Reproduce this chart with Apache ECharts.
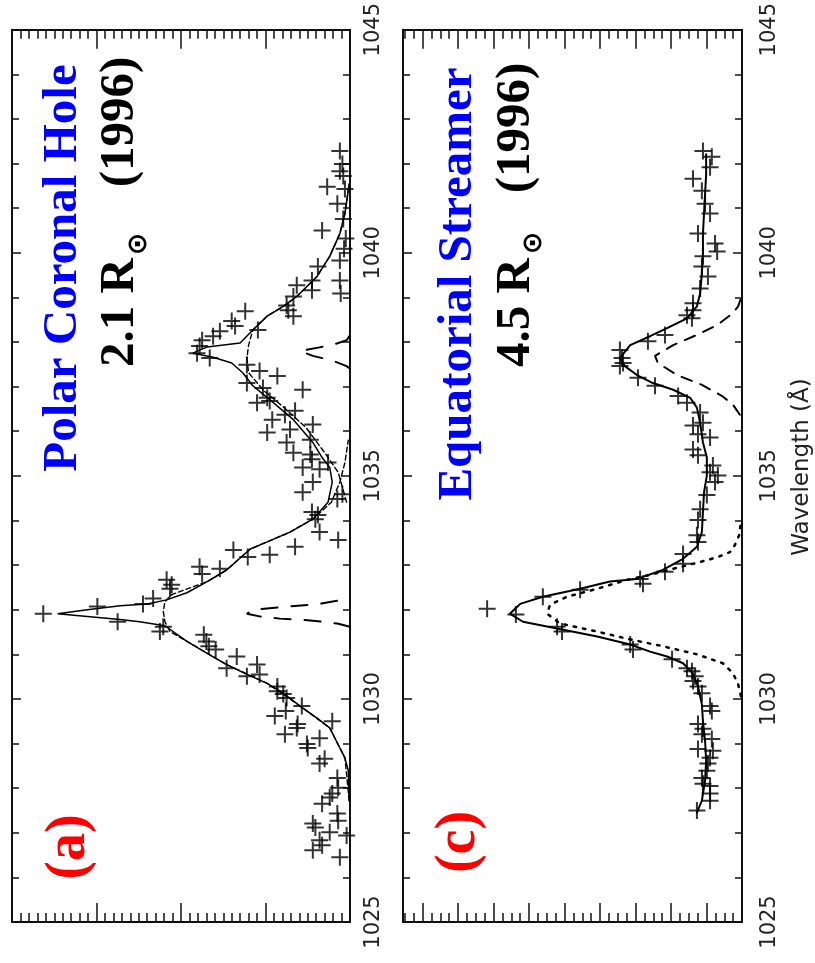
<!DOCTYPE html>
<html>
<head>
<meta charset="utf-8">
<script src="https://cdn.jsdelivr.net/npm/echarts@6/dist/echarts.min.js"></script>
<style>
  html, body { margin: 0; padding: 0; background: #fff; }
  #chart { width: 815px; height: 963px; }
</style>
</head>
<body>
<div id="chart"></div>
<script>
// O VI 1032/1037 line profiles, drawn with wavelength running up the page
// and intensity growing to the left. Pairs are [wavelength (Å), intensity].

const waveTicks = [1025, 1030, 1035, 1040, 1045];
const waveTitle = 'Wavelength (Å)';

// ---- Panel (a): polar coronal hole, 2.1 R_sun ----
const holeObs = [
  [1042.28,0.12],[1041.99,0.09],[1041.83,0.12],[1041.72,0.08],[1041.43,0.06],[1041.48,0.27],
  [1041.10,0.15],[1040.76,0.08],[1040.50,0.33],[1040.32,0.05],[1040.09,0.07],[1039.83,0.12],
  [1039.69,0.38],[1039.38,0.12],[1039.38,0.45],[1039.16,0.45],[1039.09,0.11],[1039.27,0.63],
  [1039.02,0.67],[1038.82,0.75],[1038.71,0.73],[1038.58,0.67],[1038.69,1.24],[1038.47,1.40],
  [1038.36,1.36],[1038.24,1.54],[1038.13,1.62],[1038.27,1.09],[1038.04,1.75],[1037.91,1.78],
  [1037.75,1.81],[1037.64,1.66],[1037.49,1.22],[1037.35,1.07],[1037.24,0.86],[1037.08,1.22],
  [1036.97,1.03],[1036.93,0.56],[1036.75,0.98],[1036.68,0.95],[1036.64,1.10],[1036.46,0.65],
  [1036.37,0.77],[1036.26,0.92],[1036.15,0.44],[1036.04,0.71],[1035.97,0.98],[1035.81,0.47],
  [1035.75,0.75],[1035.52,0.67],[1035.48,0.47],[1035.37,0.45],[1035.30,0.26],[1035.19,0.56],
  [1035.15,0.36],[1034.86,0.44],[1034.63,0.56],[1034.59,0.09],[1034.48,0.15],[1034.19,0.45],
  [1034.12,0.38],[1034.03,0.41],[1033.74,0.36],[1033.56,0.14],[1033.41,0.65],[1033.23,0.95],
  [1033.18,1.21],[1033.34,1.38],[1032.92,1.54],[1032.96,1.78],[1032.80,1.75],[1032.67,2.17],
  [1032.56,2.11],[1032.47,2.13],[1032.25,2.33],[1032.13,2.45],[1032.07,2.99],[1031.91,3.63],
  [1031.73,2.75],[1031.62,2.21],[1031.51,2.25],[1031.44,1.73],[1031.29,1.70],[1031.18,1.67],
  [1031.11,1.59],[1030.95,1.34],[1030.77,1.10],[1030.69,1.46],[1030.51,1.22],[1030.55,1.07],
  [1030.28,0.86],[1030.17,0.86],[1030.11,0.79],[1030.02,0.75],[1029.84,0.57],[1029.62,0.89],
  [1029.73,0.76],[1029.44,0.62],[1029.35,0.63],[1029.21,0.77],[1029.50,0.21],[1028.99,0.51],
  [1028.90,0.50],[1029.12,0.36],[1028.55,0.36],[1028.66,0.30],[1028.23,0.15],[1028.01,0.14],
  [1027.88,0.21],[1027.79,0.24],[1027.65,0.33],[1027.43,0.15],[1027.27,0.14],[1027.21,0.44],
  [1027.12,0.41],[1027.01,0.24],[1026.94,0.04],[1026.83,0.36],[1026.72,0.33],[1026.61,0.44],
  [1026.45,0.12]
];

const holeFit = [
  [1027.72,0.01],[1028.39,0.02],[1028.68,0.06],[1028.90,0.12],[1029.35,0.24],[1029.57,0.39],
  [1029.84,0.59],[1030.13,0.79],[1030.35,0.98],[1030.55,1.22],[1030.77,1.46],[1031.02,1.69],
  [1031.29,1.93],[1031.64,2.19],[1031.73,2.49],[1031.78,2.72],[1031.85,3.11],[1031.91,3.46],
  [1032.00,3.11],[1032.09,2.72],[1032.13,2.40],[1032.22,2.17],[1032.38,1.93],[1032.63,1.69],
  [1032.89,1.46],[1033.36,1.18],[1033.52,0.98],[1033.74,0.71],[1034.03,0.44],[1034.41,0.26],
  [1034.86,0.21],[1035.19,0.24],[1035.41,0.33],[1035.75,0.44],[1036.26,0.67],[1036.71,0.95],
  [1037.02,1.15],[1037.31,1.27],[1037.53,1.40],[1037.66,1.62],[1037.75,1.86],[1037.89,1.69],
  [1037.98,1.30],[1038.27,1.15],[1038.58,0.98],[1038.80,0.79],[1039.02,0.63],[1039.47,0.39],
  [1039.92,0.24],[1040.43,0.12],[1040.88,0.06],[1041.54,0.01]
];

const holeBroad1032 = [
  [1027.72,0.01],[1028.68,0.06],[1029.35,0.24],[1029.84,0.59],[1030.35,0.98],[1030.77,1.46],
  [1031.29,1.93],[1031.51,2.13],[1031.73,2.19],[1031.96,2.21],[1032.18,2.19],[1032.34,2.11],
  [1032.63,1.69],[1032.89,1.46],[1033.36,1.18],[1033.74,0.71],[1034.03,0.44],[1034.41,0.22],
  [1034.86,0.12],[1035.30,0.06],[1035.80,0.02]
];

const holeBroad1037 = [
  [1034.41,0.04],[1035.08,0.14],[1035.52,0.30],[1036.08,0.52],[1036.53,0.78],[1036.91,1.02],
  [1037.31,1.20],[1037.64,1.22],[1037.93,1.20],[1038.27,1.15],[1038.58,0.98],[1038.80,0.79],
  [1039.02,0.63],[1039.47,0.39],[1039.92,0.24],[1040.43,0.12],[1040.88,0.06],[1041.54,0.01]
];

const holeNarrow1032 = [
  [1031.62,0],[1031.69,0.15],[1031.76,0.47],[1031.80,0.83],[1031.85,1.07],[1031.91,1.22],
  [1032.00,1.15],[1032.07,0.75],[1032.13,0.36],[1032.20,0.15],[1032.25,0]
];

const holeNarrow1037 = [
  [1037.40,0],[1037.46,0.04],[1037.58,0.20],[1037.69,0.44],[1037.80,0.59],[1037.88,0.36],
  [1037.95,0.18],[1038.04,0.04],[1038.15,0]
];

// ---- Panel (c): equatorial streamer, 4.5 R_sun ----
const streamObs = [
  [1027.50,1.27],[1027.72,0.90],[1027.88,0.90],[1028.05,0.90],[1028.10,1.10],[1028.23,1.13],
  [1028.39,0.99],[1028.55,0.96],[1028.68,0.90],[1028.84,0.82],[1028.88,1.24],[1029.10,0.85],
  [1029.21,1.13],[1029.33,1.10],[1029.44,1.24],[1029.73,0.85],[1029.84,0.90],[1030.13,1.13],
  [1030.28,1.24],[1030.40,1.38],[1030.51,1.32],[1030.62,1.41],[1030.69,1.55],[1030.89,1.97],
  [1031.11,3.07],[1031.22,3.15],[1031.51,5.07],[1031.62,5.21],[1031.89,6.37],[1032.02,7.18],
  [1032.29,5.61],[1032.45,4.56],[1032.69,2.87],[1032.58,2.79],[1032.85,2.17],[1033.03,1.66],
  [1033.25,1.66],[1033.52,1.24],[1033.67,1.27],[1034.01,1.24],[1034.25,1.18],[1034.57,0.99],
  [1035.01,0.68],[1034.86,0.76],[1035.08,0.90],[1035.23,0.82],[1035.46,1.24],[1035.59,1.38],
  [1035.86,0.90],[1035.93,1.24],[1036.13,1.38],[1036.19,1.10],[1036.42,1.18],[1036.64,1.55],
  [1036.79,1.80],[1037.02,2.45],[1037.20,2.93],[1037.46,3.44],[1037.53,3.35],[1037.64,3.38],
  [1037.82,3.44],[1038.02,2.65],[1038.16,2.17],[1038.60,1.55],[1038.53,1.41],[1038.71,1.38],
  [1038.87,1.38],[1039.20,1.18],[1039.47,0.96],[1039.69,1.13],[1039.92,1.10],[1040.03,0.70],
  [1040.21,0.76],[1040.43,1.24],[1040.88,0.90],[1041.10,1.04],[1041.39,1.13],[1041.66,1.38],
  [1041.92,0.90],[1042.15,0.85],[1042.28,1.10]
];

const streamFit = [
  [1027.45,1.27],[1027.72,1.13],[1028.17,1.04],[1028.61,1.01],[1029.06,1.04],[1029.50,1.10],
  [1029.88,1.13],[1030.28,1.24],[1030.57,1.38],[1030.80,1.66],[1030.95,2.11],[1031.06,2.59],
  [1031.22,3.15],[1031.40,4.08],[1031.58,5.21],[1031.73,6.17],[1031.91,6.54],[1032.13,6.25],
  [1032.29,5.61],[1032.47,4.56],[1032.63,3.72],[1032.69,2.96],[1032.89,2.23],[1033.14,1.66],
  [1033.41,1.27],[1033.74,1.13],[1034.19,1.10],[1034.63,1.07],[1035.01,0.99],[1035.41,0.99],
  [1035.75,1.10],[1036.19,1.18],[1036.53,1.27],[1036.75,1.46],[1036.93,1.94],[1037.08,2.51],
  [1037.26,2.96],[1037.46,3.30],[1037.64,3.44],[1037.93,3.15],[1038.13,2.59],[1038.31,2.11],
  [1038.53,1.55],[1038.80,1.27],[1039.09,1.18],[1039.54,1.13],[1039.98,1.10],[1040.43,1.10],
  [1040.88,1.07],[1041.32,1.04],[1041.77,1.01],[1042.21,1.01]
];

const stream1032 = [
  [1030.06,0.03],[1030.33,0.11],[1030.57,0.25],[1030.80,0.54],[1031.00,1.27],[1031.18,2.23],
  [1031.35,3.24],[1031.51,4.08],[1031.69,5.13],[1031.91,5.49],[1032.11,5.41],[1032.29,4.93],
  [1032.47,4.08],[1032.67,3.24],[1032.78,2.59],[1032.94,1.83],[1033.07,1.18],[1033.18,0.68],
  [1033.29,0.34],[1033.45,0.20],[1033.67,0.08],[1033.96,0.03]
];

const stream1037 = [
  [1036.37,0.06],[1036.59,0.25],[1036.79,0.56],[1037.04,1.13],[1037.26,1.83],[1037.53,2.37],
  [1037.69,2.45],[1037.93,1.94],[1038.16,1.27],[1038.38,0.70],[1038.65,0.25],[1038.80,0.11],
  [1038.98,0.03]
];

// ---- styling ----
const INK = '#000';
const FRAME = { color: '#111', width: 2 };
const TICK = { color: '#111', width: 1.5 };

function intensityAxis(gridIndex, position, max, minorSplit) {
  return {
    type: 'value', gridIndex, position, inverse: true,
    min: 0, max, interval: 1,
    axisLine: { show: true, onZero: false, lineStyle: FRAME },
    axisTick: { show: true, inside: true, length: 19, lineStyle: TICK },
    minorTick: { show: true, splitNumber: minorSplit, length: 9, lineStyle: TICK },
    axisLabel: { show: false },
    splitLine: { show: false },
    minorSplitLine: { show: false }
  };
}

function waveAxis(gridIndex, position, labelMargin) {
  return {
    type: 'value', gridIndex, position,
    min: 1025, max: 1045, interval: 5,
    axisLine: { show: true, onZero: false, lineStyle: FRAME },
    axisTick: { show: true, inside: true, length: 9, lineStyle: TICK },
    minorTick: { show: true, splitNumber: 5, length: 7, lineStyle: TICK },
    axisLabel: {
      show: labelMargin != null,
      rotate: 90,
      margin: labelMargin || 8,
      fontFamily: 'DejaVu Sans',
      fontSize: 21,
      color: '#222',
      formatter: v => (waveTicks.includes(v) ? String(v) : '')
    },
    splitLine: { show: false },
    minorSplitLine: { show: false }
  };
}

// rotate [wavelength, intensity] pairs onto [x = intensity, y = wavelength]
const flip = pts => pts.map(p => [p[1], p[0]]);

function crosses(pts, xi, yi) {
  return {
    type: 'scatter', xAxisIndex: xi, yAxisIndex: yi,
    symbol: 'path://M8,0L8,16M0,8L16,8',
    symbolSize: 17,
    itemStyle: { color: 'transparent', borderColor: INK, borderWidth: 2 },
    data: flip(pts), z: 5
  };
}

function curve(pts, xi, yi, type, width) {
  return {
    type: 'line', xAxisIndex: xi, yAxisIndex: yi,
    showSymbol: false, symbol: 'none', smooth: false,
    lineStyle: { color: INK, width, type, cap: 'round' },
    data: flip(pts), z: 4
  };
}

function rotText(x, y, text, font, fill, align) {
  return {
    type: 'text', x, y, rotation: Math.PI / 2, z: 20,
    style: {
      text, font, fill,
      align: align || 'center', textAlign: align || 'center',
      verticalAlign: 'middle', textVerticalAlign: 'middle'
    }
  };
}

const titleFont = 'bold 49px "Liberation Serif"';
const tagFont = 'bold 56px "Liberation Serif"';
const sunFont = 'bold 27px "DejaVu Sans"';
const axisTitleFont = '23px "DejaVu Sans"';

const chart = echarts.init(document.getElementById('chart'));
chart.setOption({
  animation: false,
  backgroundColor: '#fff',
  grid: [
    { left: 12, top: 25, width: 338, height: 897 },
    { left: 403, top: 25, width: 339, height: 897 }
  ],
  xAxis: [
    intensityAxis(0, 'bottom', 4, 10),
    intensityAxis(0, 'top', 4, 10),
    intensityAxis(1, 'bottom', 9.55, 4),
    intensityAxis(1, 'top', 9.55, 4)
  ],
  yAxis: [
    waveAxis(0, 'left', null),
    waveAxis(0, 'right', 13),
    waveAxis(1, 'left', null),
    waveAxis(1, 'right', 17)
  ],
  series: [
    curve(holeNarrow1032, 0, 0, [16, 14], 2),
    curve(holeNarrow1037, 0, 0, [16, 14], 2),
    curve(holeBroad1032, 0, 0, [5, 3], 1.4),
    curve(holeBroad1037, 0, 0, [5, 3], 1.4),
    curve(holeFit, 0, 0, 'solid', 1.5),
    crosses(holeObs, 0, 0),

    curve(stream1032, 2, 2, [2.5, 7], 2.5),
    curve(stream1037, 2, 2, [11, 9], 2),
    curve(streamFit, 2, 2, 'solid', 2),
    crosses(streamObs, 2, 2)
  ],
  graphic: [
    rotText(63, 268, 'Polar Coronal Hole', titleFont, '#0000ff'),
    rotText(120, 367, '2.1 R', titleFont, '#000', 'left'),
    rotText(139, 244, '⊙', sunFont, '#000'),
    rotText(120, 122, '(1996)', titleFont, '#000'),
    rotText(70, 847, '(a)', tagFont, '#ff0000'),

    rotText(458, 284, 'Equatorial Streamer', titleFont, '#0000ff'),
    rotText(516, 367, '4.5 R', titleFont, '#000', 'left'),
    rotText(534, 243, '⊙', sunFont, '#000'),
    rotText(516, 128, '(1996)', titleFont, '#000'),
    rotText(460, 842, '(c)', tagFont, '#ff0000'),

    rotText(802, 467, waveTitle, axisTitleFont, '#222')
  ]
});
</script>
</body>
</html>
